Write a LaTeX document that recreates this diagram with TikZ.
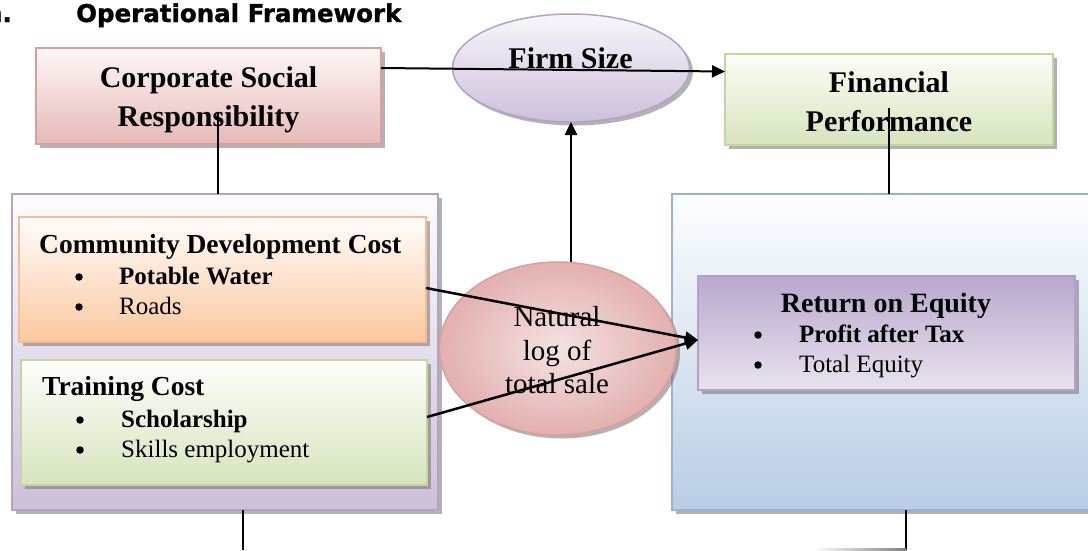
\documentclass[tikz,border=0pt]{standalone}
\usepackage{fontspec}
\setmainfont{Liberation Serif}
\newfontfamily\headfont[BoldFeatures={FakeBold=1.2}]{DejaVu Sans}
\usetikzlibrary{shapes.geometric,shadows,arrows.meta}

% fills and outlines of the boxes
\definecolor{csrTop}{HTML}{FDF7F7}\definecolor{csrBot}{HTML}{E6B9B8}\definecolor{csrLine}{HTML}{DC9E9C}
\definecolor{fsTop}{HTML}{F8F6FB}\definecolor{fsBot}{HTML}{CCC0DA}\definecolor{fsLine}{HTML}{B3A2C7}
\definecolor{fpTop}{HTML}{FBFDF7}\definecolor{fpBot}{HTML}{D7E4BD}\definecolor{fpLine}{HTML}{C3D69B}
\definecolor{lbTop}{HTML}{FDFCFE}\definecolor{lbBot}{HTML}{CCC0DA}\definecolor{lbLine}{HTML}{B3A2C7}
\definecolor{cdTop}{HTML}{FFFDFB}\definecolor{cdBot}{HTML}{FAC8A0}\definecolor{cdLine}{HTML}{F9BC90}
\definecolor{tcTop}{HTML}{FDFEFB}\definecolor{tcBot}{HTML}{D7E4BD}\definecolor{tcLine}{HTML}{C3D69B}
\definecolor{nlIn}{HTML}{F4E2E2}\definecolor{nlOut}{HTML}{E2B0AF}\definecolor{nlLine}{HTML}{DC9E9C}
\definecolor{rbTop}{HTML}{FDFEFF}\definecolor{rbBot}{HTML}{B9CDE5}\definecolor{rbLine}{HTML}{95B3D7}
\definecolor{roeTop}{HTML}{B8A8CC}\definecolor{roeMid}{HTML}{E3DDEB}\definecolor{roeBot}{HTML}{E8E3EF}\definecolor{roeLine}{HTML}{B3A2C7}

\tikzset{
  panel/.style={draw, line width=1.5pt, inner sep=0pt, outer sep=0pt,
    drop shadow={shadow xshift=3.5pt, shadow yshift=-3.5pt, fill=black!55, opacity=0.55}},
  oval/.style={panel, ellipse},
  conn/.style={line width=2.5pt, draw=black},
  arr/.style={conn, -{Triangle[length=13pt,width=12pt]}},
  ctext/.style={inner sep=0pt, anchor=base},
  ltext/.style={inner sep=0pt, anchor=base west},
  bigbold/.style={font=\fontsize{30}{36}\selectfont\bfseries},
  headbold/.style={font=\fontsize{27.5}{33}\selectfont\bfseries},
  itembold/.style={font=\fontsize{25}{30}\selectfont\bfseries},
  item/.style={font=\fontsize{25}{30}\selectfont},
  dot/.style={circle, fill=black, inner sep=0pt, minimum size=7.5pt},
}

\begin{document}
\begin{tikzpicture}[x=1pt, y=-1pt]
\useasboundingbox (0,0) rectangle (1088,550);
\clip (0,0) rectangle (1088,550);

% heading
\node[inner sep=0pt, anchor=base east, font=\headfont\bfseries\fontsize{24.5}{29}\selectfont] (num) at (12,22) {n.};
\node[ltext, font=\headfont\bfseries\fontsize{24.5}{29}\selectfont] (title) at (76,22) {Operational Framework};

% large panels
\node[panel, draw=lbLine, top color=lbTop, bottom color=lbBot, minimum width=426, minimum height=316] (lb) at (225,352) {};
\node[panel, draw=rbLine, top color=rbTop, bottom color=rbBot, minimum width=423, minimum height=316] (rb) at (883.5,352) {};

% inner boxes
\node[panel, draw=cdLine, top color=cdTop, bottom color=cdBot, minimum width=407, minimum height=125] (cdc) at (222.5,279.5) {};
\node[panel, draw=tcLine, top color=tcTop, bottom color=tcBot, minimum width=406, minimum height=125] (tc) at (224,422.5) {};
\node[panel, draw=roeLine, top color=roeTop, middle color=roeMid, bottom color=roeBot, minimum width=377, minimum height=114] (roe) at (886.5,333) {};

% top row
\node[panel, draw=csrLine, top color=csrTop, bottom color=csrBot, minimum width=345, minimum height=96] (csr) at (208.5,96) {};
\node[panel, draw=fpLine, top color=fpTop, bottom color=fpBot, minimum width=328, minimum height=91] (fp) at (889,99.5) {};
\node[oval, draw=fsLine, top color=fsTop, bottom color=fsBot, minimum width=237, minimum height=108] (fsz) at (571,68) {};

% moderator measure
\node[oval, draw=nlLine, inner color=nlIn, outer color=nlOut, minimum width=237, minimum height=173] (nl) at (558,348.5) {};

% labels
\node[ctext, bigbold] (csrA) at (208.5,87) {Corporate Social};
\node[ctext, bigbold] (csrB) at (208.5,126) {Responsibility};
\node[ctext, bigbold] (fsA) at (570.5,68) {Firm Size};
\node[ctext, bigbold] (fpA) at (889,92) {Financial};
\node[ctext, bigbold] (fpB) at (889,131) {Performance};

\node[ltext, headbold] (cdA) at (39,253) {Community Development Cost};
\node[dot] (cdB1) at (79,277) {};
\node[ltext, itembold] (cdB) at (119,284) {Potable Water};
\node[dot] (cdC1) at (79,307) {};
\node[ltext, item] (cdC) at (119,314) {Roads};

\node[ltext, headbold] (tcA) at (42,395) {Training Cost};
\node[dot] (tcB1) at (80,420) {};
\node[ltext, itembold] (tcB) at (121,427) {Scholarship};
\node[dot] (tcC1) at (80,450) {};
\node[ltext, item] (tcC) at (121,457) {Skills employment};

\node[ctext, font=\fontsize{28}{33}\selectfont\bfseries] (roeA) at (886,312) {Return on Equity};
\node[dot] (roeB1) at (758,335) {};
\node[ltext, itembold] (roeB) at (799,342) {Profit after Tax};
\node[dot] (roeC1) at (758,365) {};
\node[ltext, item] (roeC) at (799,372) {Total Equity};

\node[ctext, font=\fontsize{29}{33}\selectfont] (nlA) at (557,326) {Natural};
\node[ctext, font=\fontsize{29}{33}\selectfont] (nlB) at (557,360) {log of};
\node[ctext, font=\fontsize{29}{33}\selectfont] (nlC) at (557,393) {total sale};

% connectors
\coordinate (csrdrop) at (218,112);
\coordinate (fpdrop) at (889,108);
\coordinate (lbout) at (243,550);
\coordinate (rbout) at (906,550);
\coordinate (rbleft) at (813,548);
\coordinate (rbcorner) at (906,550.5);

\draw[arr, line width=2pt] ([yshift=28pt]csr.east) -- ([yshift=28pt]fp.west);
\draw[conn] (csrdrop) -- (csrdrop |- lb.north);
\draw[conn] (fpdrop) -- (fpdrop |- rb.north);
\draw[arr] (nl.north -| fsz.south) -- (fsz.south);
\draw[arr] ([yshift=-8.5pt]cdc.east) -- ([yshift=-7pt]roe.west);
\draw[arr] ([yshift=5.5pt]tc.east) -- ([yshift=-7pt]roe.west);
\draw[conn] (lbout |- lb.south) -- (lbout);
\draw[conn] (rbout |- rb.south) -- (rbout);
\shade[left color=white, right color=black!50] (rbleft) rectangle (rbcorner);
\end{tikzpicture}
\end{document}
